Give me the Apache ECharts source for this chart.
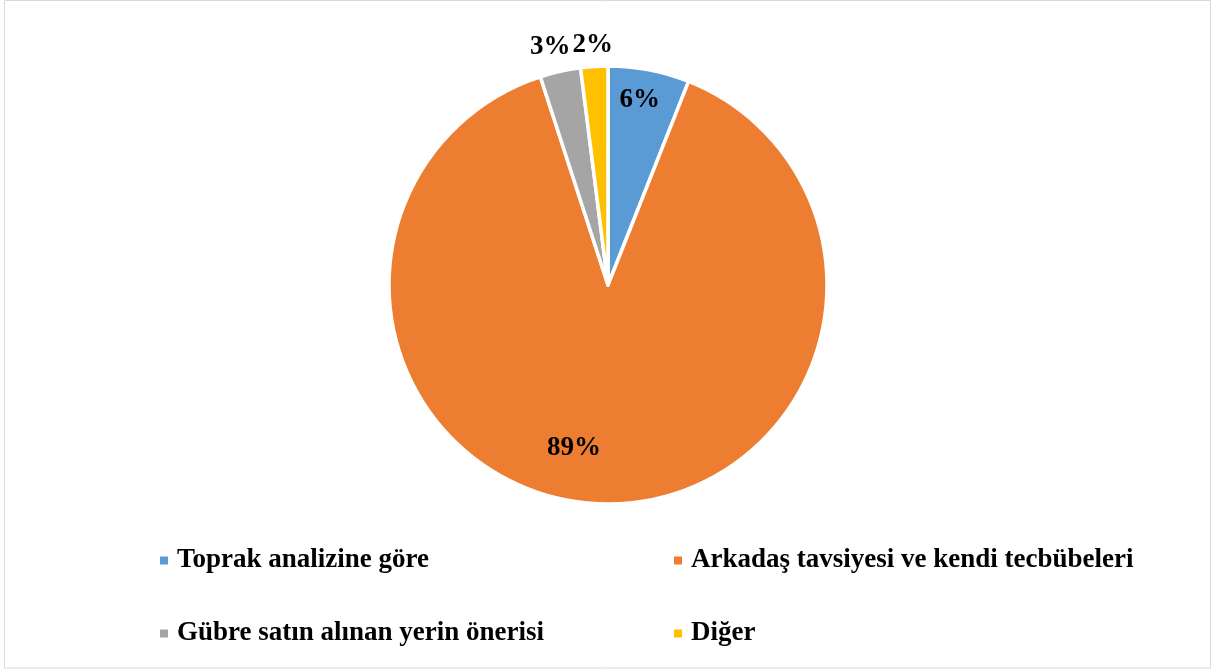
<!DOCTYPE html>
<html>
<head>
<meta charset="utf-8">
<script src="https://cdn.jsdelivr.net/npm/echarts@6/dist/echarts.min.js"></script>
<style>
  html, body { margin: 0; padding: 0; background: #fff; }
  #chart { width: 1212px; height: 669px; }
</style>
</head>
<body>
<div id="chart"></div>
<script>
// Shares of how fertiliser amounts are decided (percent)
const categories = [
  'Toprak analizine göre',
  'Arkadaş tavsiyesi ve kendi tecbübeleri',
  'Gübre satın alınan yerin önerisi',
  'Diğer'
];
const values = [6, 89, 3, 2];

// Slice colours
const colors = ['#5B9BD5', '#ED7D31', '#A5A5A5', '#FFC000'];

// Label placement along each slice: radius fraction and angle nudge (degrees)
const labelRadius = [0.855, 0.76, 1.12, 1.10];
const labelAngleNudge = [-1, 10, -1, 0];

const CX = 608, CY = 285, R = 219;
const total = values.reduce((a, b) => a + b, 0);

function midAngle(i) {
  let before = 0;
  for (let k = 0; k < i; k++) before += values[k];
  return ((before + values[i] / 2) / total) * 360;
}

const chart = echarts.init(document.getElementById('chart'), null, { renderer: 'canvas' });

const serif = '"Liberation Serif", "Times New Roman", serif';

const labelFont = {
  fontFamily: serif,
  fontWeight: 'bold',
  fontSize: 27,
  color: '#000'
};

const legendText = {
  fontFamily: serif,
  fontWeight: 'bold',
  fontSize: 27,
  color: '#000',
  padding: [0, 0, 0, 3]
};

chart.setOption({
  animation: false,
  backgroundColor: '#fff',
  color: colors,
  graphic: [{
    type: 'rect',
    shape: { x: 4.5, y: 0.5, width: 1206, height: 667.5 },
    style: { fill: 'none', stroke: '#d9d9d9', lineWidth: 1 },
    silent: true
  }],
  legend: [
    {
      data: [categories[0], categories[2]],
      orient: 'vertical',
      left: 153,
      top: 542,
      itemWidth: 10,
      itemHeight: 10,
      itemGap: 46,
      icon: 'rect',
      textStyle: legendText
    },
    {
      data: [categories[1], categories[3]],
      orient: 'vertical',
      left: 667,
      top: 542,
      itemWidth: 10,
      itemHeight: 10,
      itemGap: 46,
      icon: 'rect',
      textStyle: legendText
    }
  ],
  series: [{
    type: 'pie',
    center: [CX, CY],
    radius: [0, R],
    startAngle: 90,
    clockwise: true,
    avoidLabelOverlap: false,
    itemStyle: { borderColor: '#fff', borderWidth: 3.5 },
    emphasis: { disabled: true },
    label: Object.assign({
      show: true,
      position: 'inside',
      formatter: '{d}%'
    }, labelFont),
    labelLine: { show: false },
    labelLayout: function (params) {
      const i = params.dataIndex;
      const a = (midAngle(i) + labelAngleNudge[i]) * Math.PI / 180;
      const d = labelRadius[i] * R;
      return {
        x: CX + d * Math.sin(a),
        y: CY - d * Math.cos(a),
        align: 'center',
        verticalAlign: 'middle'
      };
    },
    data: categories.map((name, i) => ({ name: name, value: values[i] }))
  }]
});
</script>
</body>
</html>
